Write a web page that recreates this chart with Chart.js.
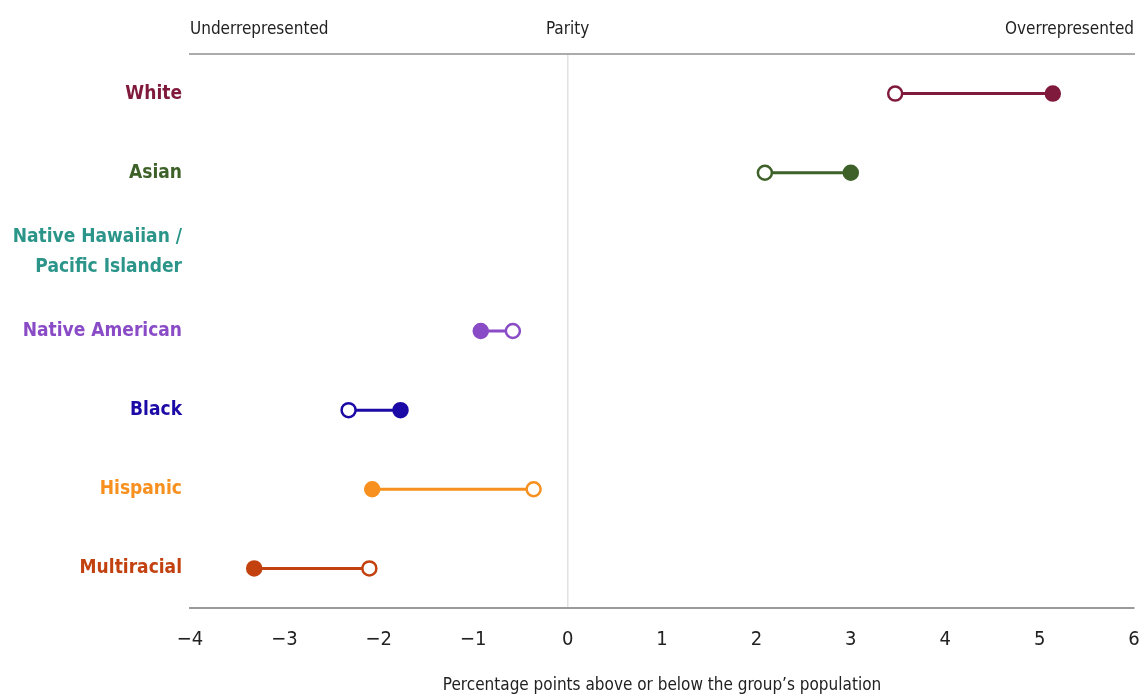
<!DOCTYPE html>
<html>
<head>
<meta charset="utf-8">
<script src="https://cdn.jsdelivr.net/npm/chart.js@4.4.1/dist/chart.umd.min.js"></script>
<style>
  body { margin: 0; background: #fff; }
  #wrap { width: 1140px; height: 700px; }
</style>
</head>
<body>
<div id="wrap"><canvas id="dumbbell"></canvas></div>
<script>
// groups, top to bottom
const groups = ['White', 'Asian', 'Native Hawaiian / Pacific Islander', 'Native American', 'Black', 'Hispanic', 'Multiracial'];
// open circle and filled circle, percentage points vs population
const openValues = [3.47, 2.09, -0.16, -0.58, -2.32, -0.36, -2.10];
const filledValues = [5.14, 3.00, 0.01, -0.92, -1.77, -2.07, -3.32];
const groupColors = ['#7f1a3d', '#3d6128', '#2b958a', '#8a4bc6', '#1c0aa6', '#f7901e', '#c2410f'];
const xTicks = [-4, -3, -2, -1, 0, 1, 2, 3, 4, 5, 6];
const topTickValues = [-4, 0, 6];
const topTickLabels = ['Underrepresented', 'Parity', 'Overrepresented'];

const FONT = '"Liberation Sans Narrow", "DejaVu Sans Condensed", "Roboto Condensed", sans-serif';

// wrap the long label onto two lines
const yLabels = groups.map(g => g.includes(' / ') ? [g.split(' / ')[0] + ' /', g.split(' / ')[1]] : g);

const datasets = groups.map((g, i) => ({
    label: g,
    data: [
        { x: openValues[i], y: yLabels[i] },
        { x: filledValues[i], y: yLabels[i] }
    ],
    borderColor: groupColors[i],
    borderWidth: 3,
    pointRadius: 7,
    pointBorderWidth: 2.5,
    pointBorderColor: groupColors[i],
    pointBackgroundColor: ['#ffffff', groupColors[i]],
    showLine: true
}));

// x axes: no extra side padding, chart area is set by layout padding only
function noSidePadding(scale, h) {
    scale.height = h;
    scale.paddingLeft = 0;
    scale.paddingRight = 0;
}

new Chart(document.getElementById('dumbbell'), {
    type: 'scatter',
    data: { datasets: datasets },
    options: {
        responsive: true,
        maintainAspectRatio: false,
        animation: false,
        layout: { autoPadding: false, padding: { right: 6 } },
        plugins: { legend: { display: false }, tooltip: { enabled: false } },
        scales: {
            y: {
                type: 'category',
                labels: yLabels,
                offset: true,
                grid: { display: false, drawTicks: false },
                border: { display: false },
                ticks: {
                    color: ctx => groupColors[ctx.index],
                    font: { family: FONT, size: 19, weight: 'bold', lineHeight: 1.55 },
                    padding: 8
                },
                afterFit: scale => { scale.width = 190; }
            },
            x: {
                type: 'linear',
                position: 'bottom',
                min: -4,
                max: 6,
                afterBuildTicks: scale => { scale.ticks = xTicks.map(v => ({ value: v })); },
                grid: {
                    color: ctx => ctx.tick && ctx.tick.value === 0 ? '#e2e2e2' : 'rgba(0,0,0,0)',
                    lineWidth: 1.5,
                    drawTicks: false
                },
                border: { color: '#9a9a9a', width: 2 },
                ticks: {
                    color: '#222',
                    font: { family: FONT, size: 20 },
                    padding: 20,
                    callback: v => String(v).replace('-', '\u2212')
                },
                title: {
                    display: true,
                    text: 'Percentage points above or below the group\u2019s population',
                    color: '#222',
                    font: { family: FONT, size: 17 },
                    padding: { top: 12 }
                },
                afterFit: scale => noSidePadding(scale, 92)
            },
            x2: {
                type: 'linear',
                position: 'top',
                min: -4,
                max: 6,
                afterBuildTicks: scale => { scale.ticks = topTickValues.map(v => ({ value: v })); },
                grid: { display: false },
                border: { color: '#ababab', width: 2 },
                ticks: {
                    color: '#222',
                    align: 'inner',
                    font: { family: FONT, size: 17 },
                    padding: 6,
                    callback: v => topTickLabels[topTickValues.indexOf(v)]
                },
                afterFit: scale => noSidePadding(scale, 54)
            }
        }
    }
});
</script>
</body>
</html>
